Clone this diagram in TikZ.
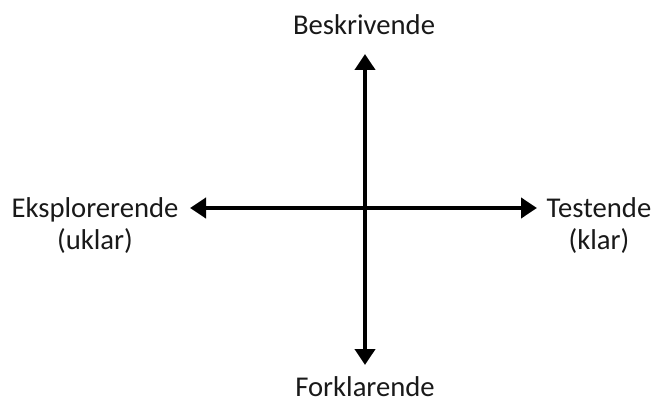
\documentclass[tikz,border=0pt]{standalone}
\usepackage{fontspec}
\setmainfont{Carlito}
\usetikzlibrary{arrows.meta}
\begin{document}
\begin{tikzpicture}[x=0.75pt,y=-0.75pt,
  axis/.style={line width=3pt,{Triangle[length=12pt,width=15pt]}-{Triangle[length=12pt,width=15pt]}},
  lbl/.style={font=\fontsize{21.5}{24}\selectfont,align=center,inner sep=0pt,text=black!90}]
\useasboundingbox (0,0) rectangle (657,403);
\coordinate (top) at (365,54);
\coordinate (bot) at (365,365);
\coordinate (lft) at (190,208);
\coordinate (rgt) at (537,208);
\draw[axis] (top) -- (bot);
\draw[axis] (lft) -- (rgt);
\node[lbl] (b) at (364,25) {Beskrivende};
\node[lbl] (f) at (365,387) {Forklarende};
\node[lbl] (e) at (95,226) {Eksplorerende\\(uklar)};
\node[lbl] (t) at (599,226) {Testende\\(klar)};
\end{tikzpicture}
\end{document}
